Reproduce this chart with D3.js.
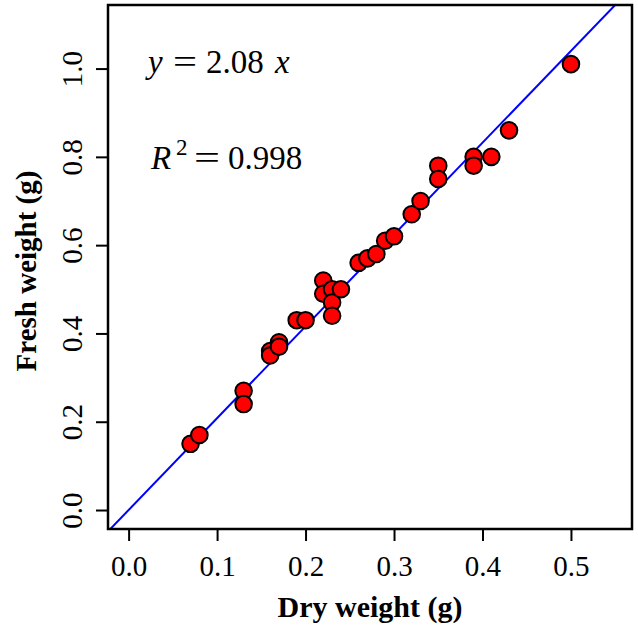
<!DOCTYPE html>
<html>
<head>
<meta charset="utf-8">
<script src="https://cdn.jsdelivr.net/npm/d3@7"></script>
<style>
  html, body { margin: 0; padding: 0; background: #fff; }
  svg { display: block; font-family: "Liberation Serif", "Times New Roman", serif; }
</style>
</head>
<body>
<svg id="chart" width="638" height="626"></svg>
<script>
// ---- data ----
const dryWeight   = [0.07, 0.08, 0.13, 0.13, 0.16, 0.16, 0.17, 0.17, 0.19, 0.20,
                     0.22, 0.22, 0.23, 0.23, 0.23, 0.24, 0.26, 0.27, 0.28, 0.29,
                     0.30, 0.32, 0.33, 0.35, 0.35, 0.39, 0.39, 0.41, 0.43, 0.50];
const freshWeight = [0.15, 0.17, 0.27, 0.24, 0.36, 0.35, 0.38, 0.37, 0.43, 0.43,
                     0.52, 0.49, 0.50, 0.47, 0.44, 0.50, 0.56, 0.57, 0.58, 0.61,
                     0.62, 0.67, 0.70, 0.78, 0.75, 0.80, 0.78, 0.80, 0.86, 1.01];
const slope = 2.08;
const rSquared = "0.998";
const xTicks = [0.0, 0.1, 0.2, 0.3, 0.4, 0.5];
const yTicks = [0.0, 0.2, 0.4, 0.6, 0.8, 1.0];
const xTitle = "Dry weight (g)";
const yTitle = "Fresh weight (g)";

// ---- layout ----
const L = 108, R = 632, T = 5, B = 529;
const svg = d3.select("#chart");

const x = d3.scaleLinear().domain([-0.0233, 0.569]).range([L, R]);
const y = d3.scaleLinear().domain([-0.043, 1.144]).range([B, T]);

svg.append("clipPath").attr("id", "clip")
  .append("rect").attr("x", L).attr("y", T).attr("width", R - L).attr("height", B - T);

// regression line
const xd = x.domain();
svg.append("line")
  .attr("clip-path", "url(#clip)")
  .attr("x1", x(xd[0])).attr("y1", y(slope * xd[0]))
  .attr("x2", x(xd[1])).attr("y2", y(slope * xd[1]))
  .attr("stroke", "#0000ff").attr("stroke-width", 2);

// points
svg.append("g").attr("clip-path", "url(#clip)")
  .selectAll("circle").data(dryWeight.map((d, i) => [d, freshWeight[i]]))
  .join("circle")
  .attr("cx", d => x(d[0])).attr("cy", d => y(d[1]))
  .attr("r", 8.3)
  .attr("fill", "#ff0000").attr("stroke", "#000").attr("stroke-width", 2);

// box
svg.append("rect").attr("x", L).attr("y", T).attr("width", R - L).attr("height", B - T)
  .attr("fill", "none").attr("stroke", "#000").attr("stroke-width", 2.5);

// x axis
const gx = svg.append("g").attr("transform", `translate(0,${B})`)
  .call(d3.axisBottom(x).tickValues(xTicks).tickFormat(d3.format(".1f")).tickSize(12).tickPadding(0));
gx.select(".domain").remove();
gx.selectAll(".tick line").attr("stroke", "#000").attr("stroke-width", 2);
gx.selectAll(".tick text")
  .attr("y", 47).attr("dy", null)
  .attr("font-size", 29).attr("fill", "#000")
  .style("font-family", "'Liberation Serif', serif");

// y axis
const gy = svg.append("g").attr("transform", `translate(${L},0)`)
  .call(d3.axisLeft(y).tickValues(yTicks).tickFormat(d3.format(".1f")).tickSize(12).tickPadding(0));
gy.select(".domain").remove();
gy.selectAll(".tick line").attr("stroke", "#000").attr("stroke-width", 2);
gy.selectAll(".tick text")
  .attr("x", 0).attr("dy", null).attr("y", 0)
  .attr("text-anchor", "middle")
  .attr("transform", "translate(-26,0) rotate(-90)")
  .attr("font-size", 29).attr("fill", "#000")
  .style("font-family", "'Liberation Serif', serif");

// axis titles
svg.append("text")
  .attr("x", (L + R) / 2).attr("y", 617)
  .attr("text-anchor", "middle")
  .attr("font-size", 30).attr("font-weight", "bold")
  .text(xTitle);
svg.append("text")
  .attr("transform", `translate(36,${(T + B) / 2 + 4}) rotate(-90)`)
  .attr("text-anchor", "middle")
  .attr("font-size", 29).attr("font-weight", "bold")
  .text(yTitle);

// annotations (pieces placed like R plotmath spacing)
function piece(tx, ty, str, opts = {}) {
  const t = svg.append("text").attr("x", tx).attr("y", ty)
    .attr("font-size", opts.size || 33)
    .text(str);
  if (opts.italic) t.attr("font-style", "italic");
  if (opts.len) t.attr("textLength", opts.len).attr("lengthAdjust", "spacingAndGlyphs");
  return t;
}
piece(148, 73, "y", {italic: true});
piece(173, 73, "=", {len: 24});
piece(206, 73, "2.08");
piece(275, 73, "x", {italic: true});

piece(151, 169, "R", {italic: true});
piece(176, 155, "2", {size: 23});
piece(194, 169, "=", {len: 26});
piece(228, 169, rSquared);
</script>
</body>
</html>
